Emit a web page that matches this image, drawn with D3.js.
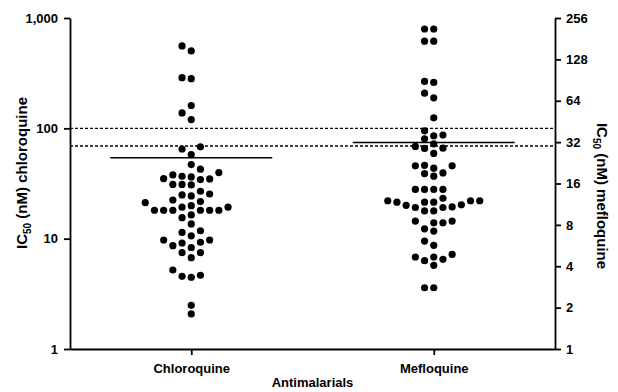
<!DOCTYPE html>
<html>
<head>
<meta charset="utf-8">
<script src="https://cdn.jsdelivr.net/npm/d3@7"></script>
<style>
  body { margin: 0; background: #fff; }
  text { font-family: "Liberation Sans", Arial, sans-serif; font-weight: bold; }
</style>
</head>
<body>
<div id="chart"></div>
<script>
let width = 618;
let height = 392;

let categories = ["Chloroquine", "Mefloquine"];

// IC50 values (nM)
let chloroquine = [558, 503, 288, 282, 161, 138, 120, 68, 65, 57.8, 46.9, 42.6, 39.7, 37.8,
    36.8, 36.3, 35.0, 34.8, 34.3, 31.0, 30.7, 31.0, 26.9, 25.4, 24.9, 24.4, 22.4, 21.7, 21.2,
    19.9, 19.3, 19.3, 18.1, 18.1, 18.1, 18.1, 18.1, 18.1, 16.4, 15.5, 13.6, 11.8, 11.4, 10.6,
    9.73, 9.73, 9.28, 9.14, 8.64, 8.29, 7.47, 7.47, 6.73, 5.20, 4.66, 4.56, 4.47, 2.49, 2.08];

let mefloquine = [213, 213, 173.6, 173.6, 87, 88.4, 72.7, 67.2, 48.1, 38.7, 35.6, 36.0, 33.8,
    31.1, 29.8, 28.8, 28.9, 26.5, 20.7, 21.7, 21.5, 21.5, 18.9, 18.1, 19.1, 14.5, 14.5, 14.5,
    14.5, 11.98, 11.2, 11.98, 10.8, 11.7, 10.7, 11.7, 10.1, 11.7, 10.1, 11.98, 10.7, 12.5, 11.1,
    8.53, 8.29, 8.29, 8.53, 7.21, 7.49, 6.10, 5.68, 4.88, 4.67, 4.39, 4.49, 4.67, 4.06, 2.79, 2.79];

let leftTicks = [1, 10, 100, 1000];
let rightTicks = [1, 2, 4, 8, 16, 32, 64, 128, 256];
let chloroCutoff = 100;  // on left axis
let mefloCutoff = 30;    // on right axis

let margin = {top: 18, right: 63, bottom: 43, left: 70};

let svg = d3.select("#chart").append("svg")
    .attr("width", width)
    .attr("height", height);

let x = d3.scalePoint()
    .domain(categories)
    .range([margin.left, width - margin.right])
    .padding(0.5);

let yLeft = d3.scaleLog()
    .domain([1, 1000])
    .range([height - margin.bottom, margin.top]);

let yRight = d3.scaleLog().base(2)
    .domain([1, 256])
    .range([height - margin.bottom, margin.top]);

// simple swarm: fixed horizontal slots, push a dot sideways if its slot is taken
function swarm(values, y, cx) {
    let step = 9.2, gap = 8;
    let placed = [];
    values.map(v => ({v: v, y: y(v)}))
        .sort((a, b) => b.y - a.y)
        .forEach(p => {
            for (let k = 0; k < 40; k++) {
                let slot = k === 0 ? 0 : (k % 2 ? -Math.ceil(k / 2) : k / 2);
                let hit = placed.some(q => q.slot === slot && Math.abs(q.y - p.y) < gap);
                if (!hit) {
                    p.slot = slot;
                    p.x = cx + slot * step;
                    placed.push(p);
                    break;
                }
            }
        });
    return placed;
}

// cutoff lines
let lineX = [margin.left, width - margin.right];
svg.append("g")
    .attr("stroke", "#000")
    .attr("stroke-width", 1.3)
    .attr("stroke-dasharray", "3,2")
    .selectAll("line")
    .data([yLeft(chloroCutoff), yRight(mefloCutoff)])
    .join("line")
    .attr("x1", lineX[0])
    .attr("x2", lineX[1])
    .attr("y1", d => d)
    .attr("y2", d => d);

let groups = [
    {name: "Chloroquine", values: chloroquine, y: yLeft},
    {name: "Mefloquine", values: mefloquine, y: yRight}
];

groups.forEach(g => {
    let cx = x(g.name);
    let pts = swarm(g.values, g.y, cx);
    svg.append("g")
        .selectAll("circle")
        .data(pts)
        .join("circle")
        .attr("cx", d => d.x)
        .attr("cy", d => d.y)
        .attr("r", 3.6)
        .attr("fill", "#000");

    // mean line
    let m = g.y(d3.mean(g.values));
    svg.append("line")
        .attr("x1", cx - 81)
        .attr("x2", cx + 81)
        .attr("y1", m)
        .attr("y2", m)
        .attr("stroke", "#000")
        .attr("stroke-width", 1.5);
});

function styleAxis(g) {
    g.selectAll(".domain").attr("stroke-width", 1.8);
    g.selectAll(".tick line").attr("stroke-width", 1.8);
    g.selectAll(".tick text")
        .attr("font-size", 13)
        .attr("font-family", "'Liberation Sans', Arial, sans-serif")
        .attr("font-weight", "bold")
        .attr("fill", "#000");
}

svg.append("g")
    .attr("transform", `translate(${margin.left},0)`)
    .call(d3.axisLeft(yLeft).tickValues(leftTicks).tickFormat(d3.format(","))
        .tickSize(6).tickSizeOuter(0).tickPadding(6))
    .call(styleAxis);

svg.append("g")
    .attr("transform", `translate(${width - margin.right},0)`)
    .call(d3.axisRight(yRight).tickValues(rightTicks).tickFormat(d3.format("d"))
        .tickSize(6).tickSizeOuter(0).tickPadding(5))
    .call(styleAxis);

svg.append("g")
    .attr("transform", `translate(0,${height - margin.bottom})`)
    .call(d3.axisBottom(x).tickSize(6).tickSizeOuter(0).tickPadding(9))
    .call(styleAxis);

// axis titles
function icTitle(sel, rest) {
    sel.append("tspan").text("IC");
    sel.append("tspan").attr("font-size", 10).attr("dy", 4).text("50");
    sel.append("tspan").attr("dy", -4).text(" (nM) " + rest);
}

svg.append("text")
    .attr("transform", `translate(27,173) rotate(-90)`)
    .attr("text-anchor", "middle")
    .attr("font-size", 15)
    .call(icTitle, "chloroquine");

svg.append("text")
    .attr("transform", `translate(597,196) rotate(90)`)
    .attr("text-anchor", "middle")
    .attr("font-size", 15)
    .call(icTitle, "mefloquine");

svg.append("text")
    .attr("x", (margin.left + width - margin.right) / 2)
    .attr("y", 387)
    .attr("text-anchor", "middle")
    .attr("font-size", 13)
    .text("Antimalarials");
</script>
</body>
</html>
